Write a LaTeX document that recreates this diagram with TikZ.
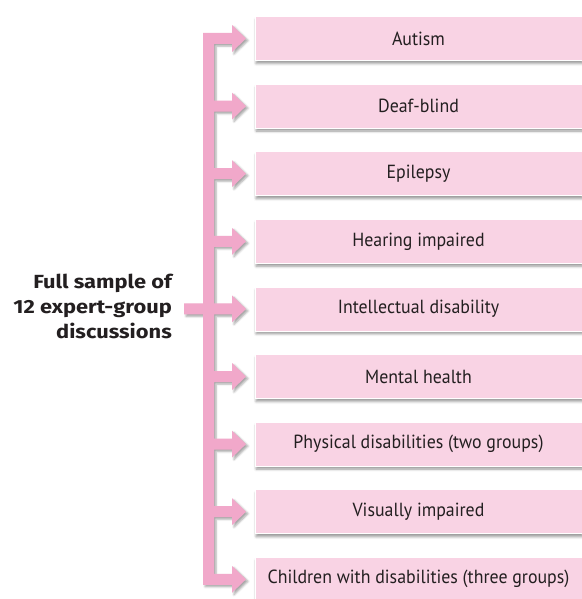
\documentclass[tikz,border=0pt]{standalone}
\usepackage{fontspec}
\setmainfont{PT Sans}[FakeStretch=0.94]
\newfontfamily\labelfont{Fira Sans}[FakeStretch=1.15]
\usetikzlibrary{shadows.blur}
\definecolor{boxpink}{RGB}{249,211,228}
\definecolor{arrpink}{RGB}{241,168,202}
\definecolor{txtc}{RGB}{35,31,32}
\tikzset{
  catbox/.style={rectangle, fill=boxpink, draw=white, line width=0.8pt,
    minimum width=327pt, minimum height=44pt, inner sep=0pt,
    text=txtc, font=\fontsize{19}{22}\selectfont,
    blur shadow={shadow xshift=1pt, shadow yshift=-3pt, shadow blur radius=2.5pt, shadow opacity=40}},
  mainlabel/.style={align=right, anchor=east, text=txtc, font=\labelfont\bfseries\fontsize{19}{25}\selectfont, inner sep=0pt},
  bracket/.style={fill=arrpink, blur shadow={shadow xshift=2pt, shadow yshift=-2pt, shadow blur radius=2pt, shadow opacity=35}}
}
\begin{document}
\begin{tikzpicture}[x=1pt,y=-1pt]
\useasboundingbox (0,0) rectangle (581,599);
% bracket with arrows
\def\xL{203}\def\xR{214}\def\xH{232}\def\xT{246}\def\xS{184}
\def\t{5.5}\def\h{13.5}
\fill[bracket] (\xL,{38.5-\t})
  \foreach \i in {0,...,7} {
    -- (\xH,{38.5+67.6*\i-\t}) -- (\xH,{38.5+67.6*\i-\h}) -- (\xT,{38.5+67.6*\i})
    -- (\xH,{38.5+67.6*\i+\h}) -- (\xH,{38.5+67.6*\i+\t}) -- (\xR,{38.5+67.6*\i+\t})
    -- (\xR,{38.5+67.6*(\i+1)-\t})
  }
  -- (\xH,{38.5+67.6*8-\t}) -- (\xH,{38.5+67.6*8-\h}) -- (\xT,{38.5+67.6*8})
  -- (\xH,{38.5+67.6*8+\h}) -- (\xH,{38.5+67.6*8+\t}) -- (\xL,{38.5+67.6*8+\t})
  -- (\xL,{38.5+67.6*4+\t}) -- (\xS,{38.5+67.6*4+\t}) -- (\xS,{38.5+67.6*4-\t})
  -- (\xL,{38.5+67.6*4-\t}) -- cycle;
% boxes
\node[catbox] (b1) at (418.5,{38.5+67.6*0}) {Autism};
\node[catbox] (b2) at (418.5,{38.5+67.6*1}) {Deaf-blind};
\node[catbox] (b3) at (418.5,{38.5+67.6*2}) {Epilepsy};
\node[catbox] (b4) at (418.5,{38.5+67.6*3}) {Hearing impaired};
\node[catbox] (b5) at (418.5,{38.5+67.6*4}) {Intellectual disability};
\node[catbox] (b6) at (418.5,{38.5+67.6*5}) {Mental health};
\node[catbox] (b7) at (418.5,{38.5+67.6*6}) {Physical disabilities (two groups)};
\node[catbox] (b8) at (418.5,{38.5+67.6*7}) {Visually impaired};
\node[catbox] (b9) at (418.5,{38.5+67.6*8}) {Children with disabilities (three groups)};
% main label
\node[mainlabel] (main) at (172,{38.5+67.6*4-2}) {Full sample of\\12 expert-group\\discussions};
\end{tikzpicture}
\end{document}
